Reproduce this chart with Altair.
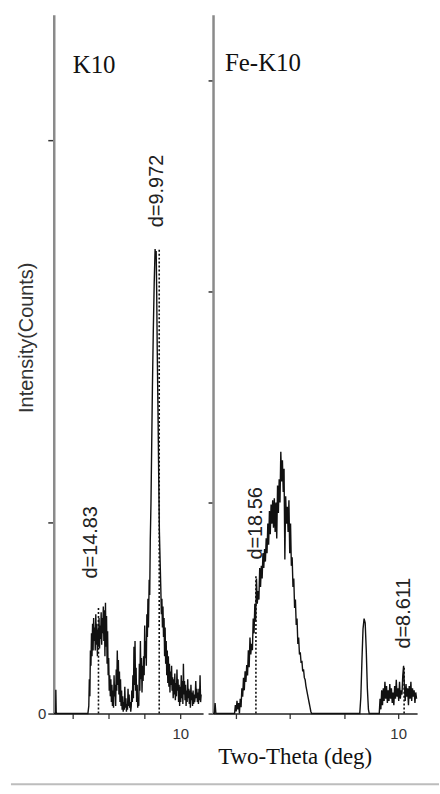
import altair as alt
import pandas as pd

# ---------------- K10 pattern (2-theta in degrees, intensity in counts) ----------------
k10_2theta = [
    2.94, 3.05, 3.06, 3.08, 3.10, 4.85,
    4.90, 4.93, 4.96, 4.99, 5.02, 5.05, 5.08, 5.11, 5.14, 5.17, 5.20, 5.23, 5.26, 5.29,
    5.32, 5.35, 5.38, 5.41, 5.44, 5.47, 5.50, 5.53, 5.56, 5.59, 5.62, 5.65, 5.68, 5.71,
    5.74, 5.77, 5.80, 5.83, 5.86, 5.89, 5.92, 5.95, 5.98, 6.01, 6.04, 6.07, 6.10,
    6.13, 6.16, 6.19, 6.22, 6.25, 6.28, 6.31, 6.34, 6.37, 6.40, 6.43, 6.46, 6.49, 6.52,
    6.55, 6.58, 6.61, 6.64, 6.67, 6.70, 6.73, 6.76, 6.79, 6.82, 6.85, 6.88, 6.91, 6.94,
    6.97, 7.00, 7.03, 7.06, 7.09, 7.12, 7.15, 7.18, 7.21, 7.24, 7.27, 7.30, 7.33, 7.36,
    7.39, 7.42, 7.45, 7.48, 7.51, 7.54, 7.57, 7.60, 7.63, 7.66, 7.69, 7.72, 7.75, 7.78,
    7.81, 7.84, 7.87, 7.90, 7.93, 7.96, 7.99, 8.02, 8.05, 8.08, 8.11, 8.14, 8.17, 8.20,
    8.23, 8.27, 8.30, 8.33, 8.37, 8.41, 8.45, 8.50, 8.55, 8.60, 8.63, 8.66, 8.69, 8.72,
    8.76, 8.80, 8.84, 8.88, 8.92, 8.95, 8.98, 9.01, 9.04, 9.07, 9.10, 9.13, 9.16, 9.19,
    9.22, 9.25, 9.28, 9.31, 9.34, 9.37, 9.40, 9.43, 9.46, 9.49, 9.52, 9.55, 9.58, 9.61,
    9.64, 9.67, 9.70, 9.73, 9.76, 9.79, 9.82, 9.85, 9.88, 9.91, 9.94, 9.97, 10.00, 10.03,
    10.06, 10.09, 10.12, 10.15, 10.18, 10.21, 10.24, 10.27, 10.30, 10.33, 10.36, 10.39,
    10.42, 10.45, 10.48, 10.51, 10.54, 10.57, 10.60, 10.63, 10.66, 10.69, 10.72, 10.75,
    10.78, 10.81, 10.84, 10.87, 10.90, 10.93, 10.96, 10.99, 11.02, 11.05, 11.08, 11.11,
    11.14, 11.17,
]
k10_counts = [
    0, 0, 125, 10, 0, 0,
    40, 180, 90, 330, 250, 420, 300, 470, 330, 500, 380, 450, 330, 520,
    360, 470, 300, 440, 350, 500, 340, 460, 390, 530, 360, 500, 420, 560,
    380, 540, 300, 580, 350, 510, 260, 430, 200, 290, 120, 200, 90,
    180, 60, 150, 40, 120, 30, 200, 90, 150, 40, 230, 120, 330, 150,
    280, 100, 220, 60, 180, 40, 120, 20, 90, 10, 60, 20, 140, 30,
    80, 10, 50, 20, 130, 40, 100, 30, 60, 10, 40, 120, 60, 200,
    80, 350, 150, 380, 120, 240, 60, 150, 30, 80, 40, 260, 120, 380,
    180, 290, 110, 250, 170, 300, 200, 460, 290, 380, 250, 520, 400, 600,
    450, 700, 620, 900, 1100, 1400, 1700, 2000, 2250, 2430, 2380, 2420, 2200, 1900,
    1600, 1250, 950, 800, 650, 520, 600, 450, 560, 400, 500, 300, 450, 260,
    380, 200, 330, 160, 300, 140, 260, 110, 220, 150, 250, 120, 190, 80,
    180, 100, 210, 70, 160, 90, 230, 120, 180, 60, 150, 40, 140, 60,
    200, 80, 170, 50, 260, 100, 170, 70, 150, 40, 120, 60,
    180, 80, 130, 50, 120, 30, 150, 70, 110, 40, 120, 50,
    100, 60, 90, 170, 80, 130, 60, 110, 50, 130, 70, 200,
    60, 100,
]

# ---------------- Fe-K10 pattern ----------------
fe_2theta = [
    3.154, 3.20, 3.23, 3.26, 3.95,
    3.98, 4.01, 4.04, 4.07, 4.10, 4.13, 4.16, 4.19, 4.22, 4.25, 4.28, 4.31, 4.34, 4.37,
    4.40, 4.43, 4.46, 4.49, 4.52, 4.55, 4.58, 4.61, 4.64, 4.67, 4.70, 4.73, 4.76, 4.79,
    4.82, 4.85, 4.88, 4.91, 4.94, 4.97, 5.00, 5.03, 5.06, 5.09, 5.12, 5.15, 5.18, 5.21,
    5.24, 5.27, 5.30, 5.33, 5.36, 5.39, 5.42, 5.45, 5.48, 5.51, 5.54, 5.57, 5.60, 5.63,
    5.66, 5.69, 5.72, 5.75, 5.78, 5.81, 5.84, 5.87, 5.90, 5.93, 5.96, 5.99, 6.02, 6.05,
    6.08, 6.11, 6.14, 6.17, 6.20, 6.23, 6.26, 6.29, 6.32, 6.35, 6.38, 6.41, 6.44, 6.47,
    6.50, 6.53, 6.56, 6.59, 6.62, 6.65, 6.68, 6.71, 6.74, 6.77, 6.80,
    8.58, 8.62, 8.66, 8.70, 8.74, 8.78, 8.82, 8.86, 8.90, 8.93,
    9.30, 9.33, 9.36, 9.39, 9.42, 9.45, 9.48, 9.51, 9.54, 9.57, 9.60, 9.63, 9.66, 9.69,
    9.72, 9.75, 9.78, 9.81, 9.84, 9.87, 9.90, 9.93, 9.96, 9.99, 10.02, 10.05, 10.08,
    10.11, 10.14, 10.17, 10.20, 10.23, 10.26, 10.29, 10.32, 10.35, 10.38, 10.41, 10.44,
    10.47, 10.50, 10.53, 10.56, 10.59, 10.62, 10.65, 10.68,
]
fe_counts = [
    0, 0, 50, 0, 0,
    40, 10, 60, 20, 50, 0, 70, 30, 120, 80, 170, 110, 200, 150,
    230, 180, 300, 220, 360, 280, 330, 300, 450, 380, 520, 440, 640, 520,
    580, 540, 690, 600, 700, 640, 760, 690, 780, 720, 830, 760, 900, 800,
    960, 850, 990, 900, 1010, 880, 1020, 860, 1000, 830, 1080, 950, 1110, 1000,
    1240, 1100, 1200, 1050, 1160, 730, 1030, 900, 980, 860, 1010, 760, 900, 700,
    740, 600, 640, 500, 540, 420, 450, 330, 360, 280, 290, 240, 250, 200,
    210, 170, 160, 130, 110, 90, 70, 50, 30, 10, 0,
    0, 80, 250, 400, 450, 430, 300, 120, 20, 0,
    0, 70, 20, 110, 40, 120, 60, 150, 70, 130, 50, 110, 60, 140,
    70, 120, 50, 100, 40, 130, 70, 160, 80, 120, 60, 150, 70,
    110, 90, 180, 226, 130, 60, 140, 80, 120, 40, 130, 70,
    150, 60, 120, 80, 110, 50, 100, 70,
]

# ---------------- d-spacing markers ----------------
k10_d_text = ["d=14.83", "d=9.972"]
k10_d_2theta = [5.44, 8.83]
k10_d_peak = [560, 2430]
k10_d_text_2theta = [5.0, 8.72]
k10_d_text_counts = [896, 2734]

fe_d_text = ["d=18.56", "d=8.611"]
fe_d_2theta = [4.74, 10.22]
fe_d_peak = [650, 226]
fe_d_text_2theta = [4.74, 10.22]
fe_d_text_counts = [901, 476]

panel_names = ["K10", "Fe-K10"]
x_ticks = [4, 6, 8, 10]
k10_y_ticks = [0, 1000, 3000]
fe_y_ticks = [0, 1000, 2000, 3000]

SANS = "Liberation Sans"
SERIF = "Liberation Serif"


def panel(tt, cnt, dx, dpk, dtxt, dtx, dty, name, xdom, ydom, width,
          yaxis, xaxis, extra=None):
    trace = pd.DataFrame({"tt": tt, "c": cnt})
    marks = pd.DataFrame({"tt": dx, "zero": [0] * len(dx), "pk": dpk})
    labels = pd.DataFrame({"tt": dtx, "c": dty, "t": dtxt})
    xs = alt.Scale(domain=xdom, nice=False, zero=False)
    ys = alt.Scale(domain=ydom, nice=False)

    line = alt.Chart(trace).mark_line(color="#111", strokeWidth=1.4).encode(
        x=alt.X("tt:Q", scale=xs, axis=xaxis),
        y=alt.Y("c:Q", scale=ys, axis=yaxis),
        order="tt:Q",
    )
    dots = alt.Chart(marks).mark_rule(color="#111", strokeWidth=1.6,
                                       strokeDash=[2, 2]).encode(
        x="tt:Q", y="zero:Q", y2="pk:Q")
    txt = alt.Chart(labels).mark_text(angle=270, align="center", baseline="middle",
                                      font=SANS, fontSize=20, color="#222").encode(
        x="tt:Q", y="c:Q", text="t:N")
    title = alt.Chart(pd.DataFrame({"t": [name]})).mark_text(
        align="left", baseline="alphabetic", font=SERIF, fontSize=25,
        color="#111").encode(text="t:N", x=alt.value(19 if name == "K10" else 12),
                             y=alt.value(59 if name == "K10" else 57))
    layers = [dots, line, txt, title]
    if extra is not None:
        layers.append(extra)
    return alt.layer(*layers).properties(width=width, height=702)


left_y_axis = alt.Axis(
    values=k10_y_ticks, labelExpr="datum.value == 0 ? '0' : ''",
    title="Intensity(Counts)", titleFont=SANS, titleFontSize=20,
    titleFontWeight="normal", titleColor="#333", titleAngle=270,
    titleAlign="center", titleBaseline="middle", titleX=-27, titleY=324,
    domainColor="#8a8a8a", domainWidth=2.5, tickColor="#333", tickWidth=1.5,
    tickSize=6, labelFont=SANS, labelFontSize=15, labelColor="#333",
    labelPadding=2, grid=False)
right_y_axis = alt.Axis(
    values=fe_y_ticks, labels=False, title=None,
    domainColor="#8a8a8a", domainWidth=2.5, tickColor="#333", tickWidth=1.5,
    tickSize=5, grid=False)
left_x_axis = alt.Axis(
    values=x_ticks, labelExpr="datum.value == 10 ? '10' : ''", title=None,
    domainColor="#222", domainWidth=1.5, tickColor="#333", tickWidth=1.3,
    tickSize=5, labelFont=SANS, labelFontSize=15, labelColor="#333",
    labelPadding=8, grid=False)
right_x_axis = alt.Axis(
    values=x_ticks, labelExpr="datum.value == 10 ? '10' : ''",
    title="Two-Theta (deg)", titleFont=SERIF, titleFontSize=23,
    titleFontWeight="normal", titleColor="#111", titleX=82, titleY=50,
    titleAlign="center", titleBaseline="alphabetic",
    domainColor="#222", domainWidth=1.5, tickColor="#333", tickWidth=1.3,
    tickSize=5, labelFont=SANS, labelFontSize=15, labelColor="#333",
    labelPadding=8, grid=False)

bottom_rule = alt.Chart(pd.DataFrame({"a": [0]})).mark_rule(
    color="#bdbdbd", strokeWidth=2).encode(
    x=alt.value(-43), x2=alt.value(387), y=alt.value(773))

left = panel(k10_2theta, k10_counts, k10_d_2theta, k10_d_peak, k10_d_text,
             k10_d_text_2theta, k10_d_text_counts, panel_names[0],
             [2.944, 11.278], [0, 3656], 150, left_y_axis, left_x_axis,
             extra=bottom_rule)
right = panel(fe_2theta, fe_counts, fe_d_2theta, fe_d_peak, fe_d_text,
              fe_d_text_2theta, fe_d_text_counts, panel_names[1],
              [3.154, 10.70], [0, 3311], 205, right_y_axis, right_x_axis)

chart = alt.hconcat(left, right, spacing=10, bounds="flush").properties(
    padding={"left": 10, "top": 13, "right": 0, "bottom": 5},
    background="white",
).configure_view(strokeWidth=0)

chart.save("out.html", embed_options={"renderer": "svg", "actions": False})
